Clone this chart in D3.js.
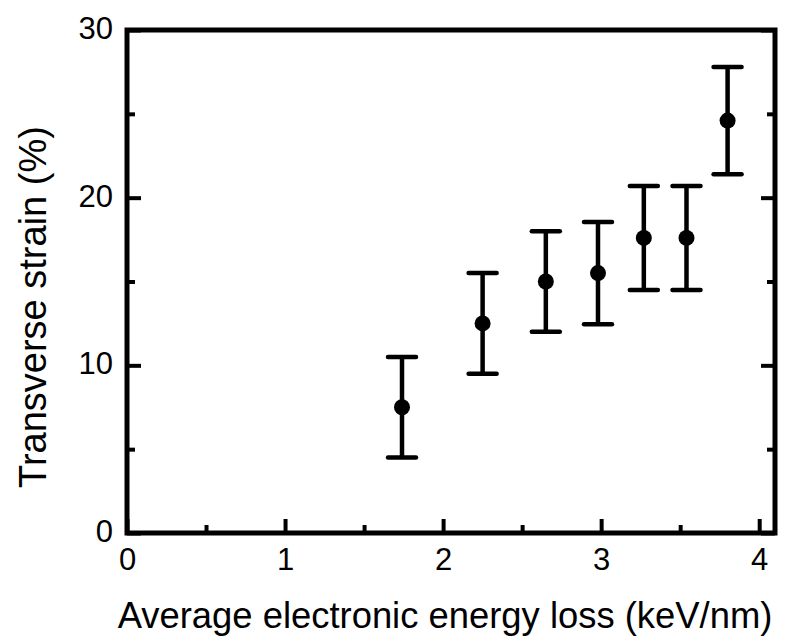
<!DOCTYPE html>
<html>
<head>
<meta charset="utf-8">
<script src="https://cdn.jsdelivr.net/npm/d3@7"></script>
<style>
  html, body { margin: 0; padding: 0; background: #fff; }
  svg { display: block; font-family: Arial, "Liberation Sans", sans-serif; }
</style>
</head>
<body>
<svg id="chart" width="790" height="642"></svg>
<script>
// Energy loss (keV/nm) against transverse strain (%) with symmetric error bars
const energyLoss = [1.74, 2.25, 2.65, 2.98, 3.27, 3.54, 3.80];
const strain     = [7.5, 12.5, 15.0, 15.5, 17.6, 17.6, 24.6];
const strainErr  = [3.0, 3.0, 3.0, 3.05, 3.1, 3.1, 3.2];

const xMajorTicks = [0, 1, 2, 3, 4];
const xMinorTicks = [0.5, 1.5, 2.5, 3.5];
const yMajorTicks = [0, 10, 20, 30];
const yMinorTicks = [5, 15, 25];

const xTitle = "Average electronic energy loss (keV/nm)";
const yTitle = "Transverse strain (%)";

const svg = d3.select("#chart");
const plotLeft = 127, plotRight = 775, plotTop = 30, plotBottom = 533;

const x = d3.scaleLinear().domain([0, 4.1]).range([plotLeft, plotRight]);
const y = d3.scaleLinear().domain([0, 30]).range([plotBottom, plotTop]);

const points = energyLoss.map((e, i) => ({ x: e, y: strain[i], err: strainErr[i] }));

function styleAxis(g) {
  g.attr("font-size", null).attr("font-family", null);
  g.select(".domain").remove();
  g.selectAll(".tick line").attr("stroke", "#000").attr("stroke-width", 4);
  g.selectAll(".tick text")
    .attr("fill", "#000")
    .attr("font-size", 31)
    .attr("font-family", "Arial, 'Liberation Sans', sans-serif");
}

// Bottom axis: labelled majors, unlabelled minors, ticks pointing inward
svg.append("g").attr("transform", `translate(0,${plotBottom})`)
  .call(d3.axisBottom(x).tickValues(xMajorTicks).tickFormat(d3.format("d"))
    .tickSizeInner(-14).tickSizeOuter(0).tickPadding(15))
  .call(styleAxis);
svg.append("g").attr("transform", `translate(0,${plotBottom})`)
  .call(d3.axisBottom(x).tickValues(xMinorTicks).tickFormat("")
    .tickSizeInner(-8).tickSizeOuter(0))
  .call(styleAxis);

// Left axis
svg.append("g").attr("transform", `translate(${plotLeft},0)`)
  .call(d3.axisLeft(y).tickValues(yMajorTicks).tickFormat(d3.format("d"))
    .tickSizeInner(-14).tickSizeOuter(0).tickPadding(14))
  .call(styleAxis)
  .call(g => g.selectAll(".tick text").attr("dy", "0.27em"));
svg.append("g").attr("transform", `translate(${plotLeft},0)`)
  .call(d3.axisLeft(y).tickValues(yMinorTicks).tickFormat("")
    .tickSizeInner(-8).tickSizeOuter(0))
  .call(styleAxis);

// Right axis (ticks only)
svg.append("g").attr("transform", `translate(${plotRight},0)`)
  .call(d3.axisRight(y).tickValues(yMajorTicks).tickFormat("")
    .tickSizeInner(-14).tickSizeOuter(0))
  .call(styleAxis);
svg.append("g").attr("transform", `translate(${plotRight},0)`)
  .call(d3.axisRight(y).tickValues(yMinorTicks).tickFormat("")
    .tickSizeInner(-8).tickSizeOuter(0))
  .call(styleAxis);

// Plot frame
svg.append("rect")
  .attr("x", plotLeft).attr("y", plotTop)
  .attr("width", plotRight - plotLeft).attr("height", plotBottom - plotTop)
  .attr("fill", "none").attr("stroke", "#000").attr("stroke-width", 5);

// Error bars
const capHalf = 14;
const bars = svg.append("g").attr("stroke", "#000").attr("stroke-width", 4.5);
bars.selectAll("line.stem").data(points).join("line")
  .attr("class", "stem")
  .attr("x1", d => x(d.x)).attr("x2", d => x(d.x))
  .attr("y1", d => y(d.y - d.err)).attr("y2", d => y(d.y + d.err));
bars.selectAll("line.capTop").data(points).join("line")
  .attr("class", "capTop")
  .attr("x1", d => x(d.x) - capHalf).attr("x2", d => x(d.x) + capHalf)
  .attr("y1", d => y(d.y + d.err)).attr("y2", d => y(d.y + d.err))
  .attr("stroke-linecap", "round");
bars.selectAll("line.capBottom").data(points).join("line")
  .attr("class", "capBottom")
  .attr("x1", d => x(d.x) - capHalf).attr("x2", d => x(d.x) + capHalf)
  .attr("y1", d => y(d.y - d.err)).attr("y2", d => y(d.y - d.err))
  .attr("stroke-linecap", "round");

// Data points
svg.append("g").selectAll("circle").data(points).join("circle")
  .attr("cx", d => x(d.x)).attr("cy", d => y(d.y))
  .attr("r", 8).attr("fill", "#000");

// Axis titles
svg.append("text")
  .attr("x", 445).attr("y", 628)
  .attr("text-anchor", "middle")
  .attr("font-size", 36.4)
  .text(xTitle);
svg.append("text")
  .attr("transform", "translate(46,307) rotate(-90)")
  .attr("text-anchor", "middle")
  .attr("font-size", 38)
  .text(yTitle);
</script>
</body>
</html>
